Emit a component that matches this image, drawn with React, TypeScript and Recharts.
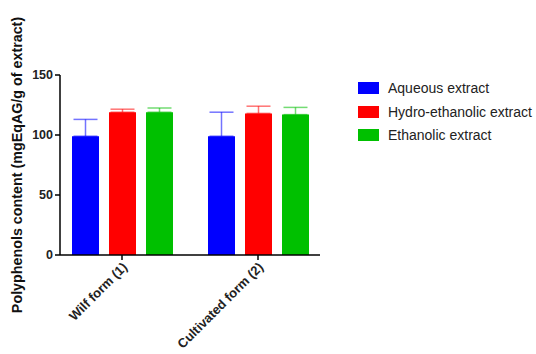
import { Bar, BarChart, ErrorBar, XAxis, YAxis } from 'recharts';

const forms = ['Wilf form (1)', 'Cultivated form (2)'];
const aqueous = [99, 99];
const aqueousErr = [14, 20];
const hydroEthanolic = [119, 118];
const hydroEthanolicErr = [2.5, 6];
const ethanolic = [119, 117];
const ethanolicErr = [3.5, 6];
const yTicks = [0, 50, 100, 150];

const series = [
  { key: 'aqueous', errKey: 'aqueousErr', name: 'Aqueous extract', color: '#0000ff' },
  { key: 'hydro', errKey: 'hydroErr', name: 'Hydro-ethanolic extract', color: '#ff0000' },
  { key: 'ethanolic', errKey: 'ethanolicErr', name: 'Ethanolic extract', color: '#00c000' },
];

const data = forms.map((form, i) => ({
  form,
  aqueous: aqueous[i],
  aqueousErr: [0, aqueousErr[i]],
  hydro: hydroEthanolic[i],
  hydroErr: [0, hydroEthanolicErr[i]],
  ethanolic: ethanolic[i],
  ethanolicErr: [0, ethanolicErr[i]],
}));

const font = 'Arial, "Liberation Sans", sans-serif';

function FormTick({ x, y, payload }: any) {
  return (
    <g transform={`translate(${x + 6},${y + 6})`}>
      <text
        x={0}
        y={0}
        textAnchor="end"
        transform="rotate(-45)"
        fontFamily={font}
        fontWeight="bold"
        fontSize={13}
        fill="#222"
      >
        {payload.value}
      </text>
    </g>
  );
}

function ExtractLegend() {
  return (
    <div
      style={{
        position: 'absolute',
        left: 358,
        top: 76,
        fontFamily: font,
        fontSize: 14,
        color: '#222',
      }}
    >
      {series.map((s) => (
        <div key={s.key} style={{ display: 'flex', alignItems: 'center', height: 23.7 }}>
          <span style={{ width: 21, height: 12, background: s.color, marginRight: 9 }} />
          {s.name}
        </div>
      ))}
    </div>
  );
}

export default function App() {
  return (
    <div style={{ position: 'absolute', left: 0, top: 0, width: 536, height: 354, background: '#fff' }}>
      <BarChart
        width={536}
        height={354}
        data={data}
        margin={{ top: 75, right: 216, bottom: 19, left: 0 }}
        barGap={10}
        barSize={27}
      >
        <XAxis
          dataKey="form"
          padding={{ left: -6, right: -6 }}
          height={80}
          tick={<FormTick />}
          tickSize={5}
          axisLine={{ stroke: '#000', strokeWidth: 1.5 }}
          tickLine={{ stroke: '#000', strokeWidth: 1.5 }}
          interval={0}
        />
        <YAxis
          width={60}
          domain={[0, 150]}
          ticks={yTicks}
          tickSize={5}
          axisLine={{ stroke: '#000', strokeWidth: 1.5 }}
          tickLine={{ stroke: '#000', strokeWidth: 1.5 }}
          tick={{ fontFamily: font, fontWeight: 'bold', fontSize: 12.5, fill: '#222' }}
          label={{
            value: 'Polyphenols content (mgEqAG/g of extract)',
            angle: -90,
            position: 'insideLeft',
            offset: 17,
            dx: 0,
            style: { fontFamily: font, fontWeight: 'bold', fontSize: 14.3, fill: '#111', textAnchor: 'middle' },
          }}
        />
        {series.map((s) => (
          <Bar key={s.key} dataKey={s.key} name={s.name} fill={s.color} isAnimationActive={false}>
            <ErrorBar
              dataKey={s.errKey}
              width={12}
              stroke={s.color}
              strokeOpacity={0.55}
              strokeWidth={1.5}
              isAnimationActive={false}
            />
          </Bar>
        ))}
      </BarChart>
      <ExtractLegend />
    </div>
  );
}
